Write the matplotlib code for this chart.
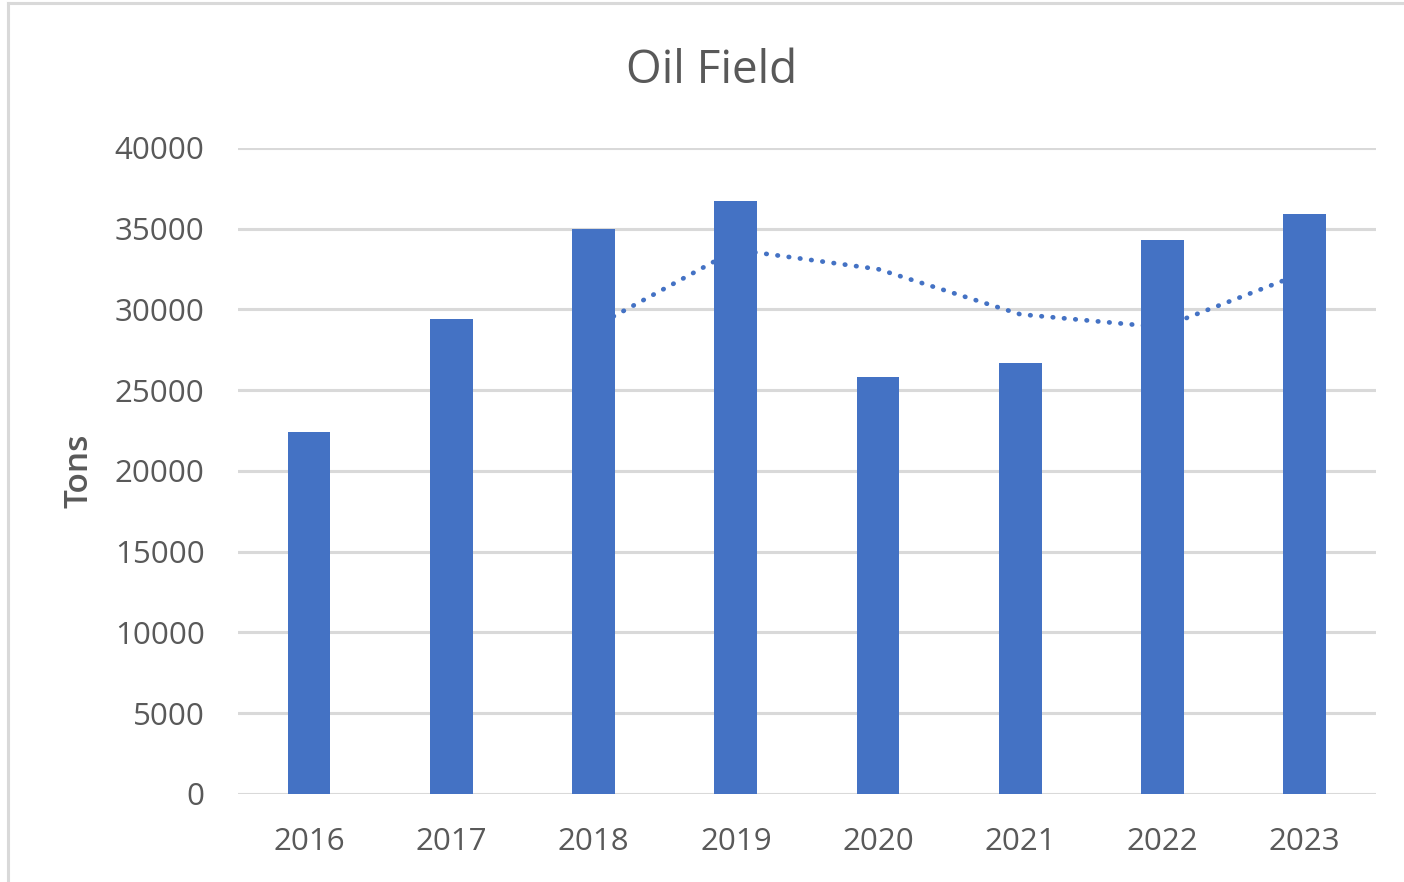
import matplotlib
matplotlib.use('Agg')
import matplotlib.pyplot as plt
from matplotlib.lines import Line2D

plt.rcParams['font.family'] = ['Open Sans', 'DejaVu Sans']

# 데이터
years = ['2016', '2017', '2018', '2019', '2020', '2021', '2022', '2023']
tons = [22400, 29400, 35000, 36700, 25800, 26700, 34300, 35900]
# 점선 추세선 (3년 이동평균, 2018년부터)
trend_years = ['2018', '2019', '2020', '2021', '2022', '2023']
trend_vals = [28900, 33700, 32500, 29700, 28900, 32300]

text_col = '#595959'
grid_col = '#d9d9d9'
bar_col = '#4472c4'

fig = plt.figure(figsize=(14.04, 8.82), dpi=100)
ax = fig.add_axes([0.1695, 0.0998, 0.8105, 0.7324])

x = range(len(years))
ax.bar(x, tons, width=0.30, color=bar_col, zorder=3)

tx = [years.index(y) for y in trend_years]
ax.plot(tx, trend_vals, color=bar_col, lw=3.4, ls=(0, (0.1, 2.3)),
        dash_capstyle='round', zorder=2)

ax.set_xlim(-0.5, len(years) - 0.5)
ax.set_ylim(0, 40000)
ax.set_yticks(range(0, 40001, 5000))
ax.set_xticks(list(x))
ax.set_xticklabels(years)
ax.grid(axis='y', color=grid_col, lw=2.2, zorder=0)
ax.set_axisbelow(True)
for s in ax.spines.values():
    s.set_visible(False)
ax.tick_params(length=0, labelsize=22.5, colors=text_col)
ax.tick_params(axis='y', pad=24)
ax.tick_params(axis='x', pad=24)

ax.set_ylabel('Tons', fontsize=24, color=text_col, fontweight='semibold')
ax.yaxis.set_label_coords(-0.125, 0.5)

fig.text(0.507, 0.920, 'Oil Field', ha='center', va='center',
         fontsize=33, color=text_col)

# 차트 테두리 (왼쪽, 위쪽만 보임)
fig.add_artist(Line2D([7.5 / 1404, 7.5 / 1404], [0, 1 - 2.5 / 882],
                      transform=fig.transFigure, color='#d9d9d9', lw=2.2))
fig.add_artist(Line2D([7.5 / 1404, 1], [1 - 2.5 / 882, 1 - 2.5 / 882],
                      transform=fig.transFigure, color='#d9d9d9', lw=2.2))

fig.savefig('out.png', dpi=100)
